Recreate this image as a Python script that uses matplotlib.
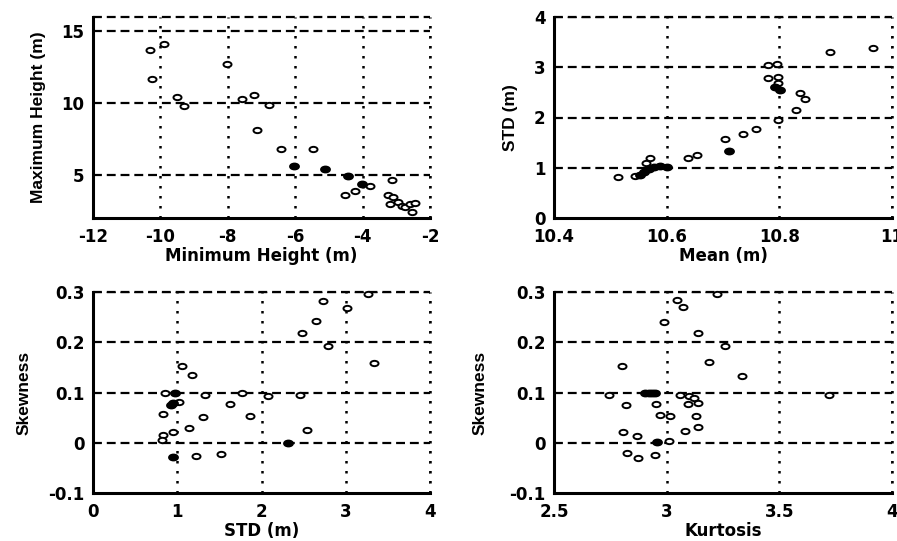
import numpy as np
import matplotlib
matplotlib.use("Agg")
import matplotlib.pyplot as plt
from matplotlib.path import Path
from matplotlib.transforms import Affine2D

plt.rcParams['font.family'] = ['DejaVu Sans']
plt.rcParams['font.weight'] = 'bold'

# ---- Panel 1: Minimum vs Maximum height ----
min_h = [-10.30, -9.90, -10.25, -8.03, -9.51, -9.31, -7.58, -7.22, -6.79, -7.12,
         -6.42, -5.46, -4.52, -4.23, -3.78, -3.14, -3.24, -3.09, -3.19, -2.94,
         -2.84, -2.75, -2.59, -2.45, -2.54]
max_h = [13.73, 14.15, 11.70, 12.76, 10.45, 9.80, 10.30, 10.60, 9.87, 8.10,
         6.80, 6.80, 3.60, 3.90, 4.25, 4.65, 3.62, 3.44, 2.98, 3.09,
         2.86, 2.80, 2.98, 3.02, 2.40]
min_h_dense = [-6.05, -5.11, -4.42, -4.03]
max_h_dense = [5.65, 5.42, 4.95, 4.37]

# ---- Panel 2: Mean vs STD ----
mean_m = [10.513, 10.544, 10.570, 10.564, 10.638, 10.653, 10.703, 10.736, 10.759,
          10.780, 10.795, 10.780, 10.798, 10.798, 10.837, 10.846, 10.830, 10.798,
          10.890, 10.967]
std_m = [0.82, 0.84, 1.19, 1.09, 1.19, 1.25, 1.57, 1.67, 1.78,
         3.04, 3.06, 2.78, 2.81, 2.68, 2.49, 2.36, 2.14, 1.95,
         3.31, 3.38]
mean_dense = [10.552, 10.560, 10.568, 10.578, 10.588, 10.600, 10.710, 10.792, 10.801]
std_dense = [0.85, 0.92, 0.98, 1.02, 1.03, 1.02, 1.34, 2.61, 2.55]

# ---- Panel 3: STD vs Skewness ----
std_s = [3.27, 2.73, 3.02, 2.65, 2.48, 2.79, 3.33, 1.052, 1.18, 0.855,
         1.765, 1.33, 2.08, 2.46, 1.63, 1.02, 0.826, 1.30, 1.86, 1.14,
         0.946, 0.835, 0.816, 2.54, 1.22, 1.52]
skew_s = [0.297, 0.283, 0.269, 0.243, 0.218, 0.193, 0.159, 0.153, 0.134, 0.100,
          0.100, 0.095, 0.093, 0.095, 0.078, 0.082, 0.057, 0.052, 0.053, 0.030,
          0.022, 0.015, 0.005, 0.025, -0.026, -0.022]
std_s_dense = [0.973, 0.92, 0.95, 2.32, 0.953]
skew_s_dense = [0.100, 0.075, 0.080, 0.000, -0.029]

# ---- Panel 4: Kurtosis vs Skewness ----
kurt = [3.222, 3.048, 3.073, 2.986, 3.138, 3.257, 2.800, 3.190, 3.334, 2.746,
        3.720, 2.818, 2.953, 2.970, 3.017, 3.059, 3.100, 3.120, 3.095, 3.140,
        3.130, 3.138, 3.082, 2.808, 2.870, 3.010, 2.823, 2.874, 2.948]
skew_k = [0.297, 0.284, 0.270, 0.241, 0.218, 0.193, 0.153, 0.161, 0.133, 0.095,
          0.095, 0.075, 0.078, 0.055, 0.053, 0.095, 0.093, 0.090, 0.077, 0.080,
          0.053, 0.031, 0.024, 0.022, 0.014, 0.003, -0.021, -0.031, -0.024]
kurt_dense = [2.905, 2.920, 2.935, 2.950, 2.955]
skew_k_dense = [0.100, 0.100, 0.100, 0.100, 0.001]

# ellipse-like open marker (the scan is horizontally stretched)
ell = Path.unit_circle().transformed(Affine2D().scale(1.0, 0.66))

fig = plt.figure(figsize=(8.97, 5.41), dpi=100)
W, H = 897, 541

def make_ax(x0, x1, y0, y1):
    return fig.add_axes([x0 / W, 1 - y1 / H, (x1 - x0) / W, (y1 - y0) / H])

ax1 = make_ax(93, 430, 17, 218)
ax2 = make_ax(554, 892, 17, 218)
ax3 = make_ax(93, 430, 292, 493)
ax4 = make_ax(554, 892, 292, 493)

panels = [
    (ax1, min_h, max_h, min_h_dense, max_h_dense, (-12, -2), (2, 16),
     [-12, -10, -8, -6, -4, -2], [5, 10, 15],
     ['-12', '-10', '-8', '-6', '-4', '-2'], ['5', '10', '15'],
     'Minimum Height (m)', 'Maximum Height (m)', -0.163),
    (ax2, mean_m, std_m, mean_dense, std_dense, (10.4, 11), (0, 4),
     [10.4, 10.6, 10.8, 11], [0, 1, 2, 3, 4],
     ['10.4', '10.6', '10.8', '11'], ['0', '1', '2', '3', '4'],
     'Mean (m)', 'STD (m)', -0.130),
    (ax3, std_s, skew_s, std_s_dense, skew_s_dense, (0, 4), (-0.1, 0.3),
     [0, 1, 2, 3, 4], [-0.1, 0, 0.1, 0.2, 0.3],
     ['0', '1', '2', '3', '4'], ['-0.1', '0', '0.1', '0.2', '0.3'],
     'STD (m)', 'Skewness', -0.205),
    (ax4, kurt, skew_k, kurt_dense, skew_k_dense, (2.5, 4), (-0.1, 0.3),
     [2.5, 3, 3.5, 4], [-0.1, 0, 0.1, 0.2, 0.3],
     ['2.5', '3', '3.5', '4'], ['-0.1', '0', '0.1', '0.2', '0.3'],
     'Kurtosis', 'Skewness', -0.219),
]

dot_ls = (0, (1, 3))
dash_ls = (0, (4, 2.2))

for (ax, xs, ys, xd, yd, xl, yl, xt, yt, xtl, ytl, xlab, ylab, ylx) in panels:
    ax.set_xlim(*xl)
    ax.set_ylim(*yl)
    ax.set_xticks(xt)
    ax.set_yticks(yt)
    ax.set_xticklabels(xtl)
    ax.set_yticklabels(ytl)
    ax.tick_params(axis='x', length=0, labelsize=12, pad=7)
    ax.tick_params(axis='y', length=0, labelsize=12, pad=6)
    for lab in ax.get_xticklabels() + ax.get_yticklabels():
        lab.set_fontweight('bold')
    # grid lines
    for v in xt:
        if v != xl[0]:
            ax.axvline(v, color='black', lw=1.8, ls=dot_ls, zorder=1)
    for v in yt:
        if v != yl[0]:
            ax.axhline(v, color='black', lw=1.6, ls=dash_ls, zorder=1)
    ax.axhline(yl[1], color='black', lw=1.6, ls=dash_ls, zorder=1, clip_on=False)
    ax.axvline(xl[1], color='black', lw=1.8, ls=dot_ls, zorder=1, clip_on=False)
    ax.spines['top'].set_visible(False)
    ax.spines['right'].set_visible(False)
    ax.spines['left'].set_linewidth(2.2)
    ax.spines['bottom'].set_linewidth(2.2)
    ax.plot(xs, ys, ls='none', marker=ell, markersize=5.8, mfc='white', mec='black',
            mew=1.4, zorder=3, clip_on=False)
    ax.plot(xd, yd, ls='none', marker=ell, markersize=6.4, mfc='black', mec='black',
            mew=1.4, zorder=3, clip_on=False)
    ax.set_xlabel(xlab, fontsize=12, fontweight='bold')
    ax.set_ylabel(ylab, fontsize=12.5, fontweight='bold',
                  family=['Liberation Sans', 'DejaVu Sans'])
    ax.xaxis.set_label_coords(0.5, -0.189)
    ax.yaxis.set_label_coords(ylx, 0.5)
    ax.xaxis.label.set_va('center')
    ax.yaxis.label.set_va('center')

fig.savefig('out.png', dpi=100)
